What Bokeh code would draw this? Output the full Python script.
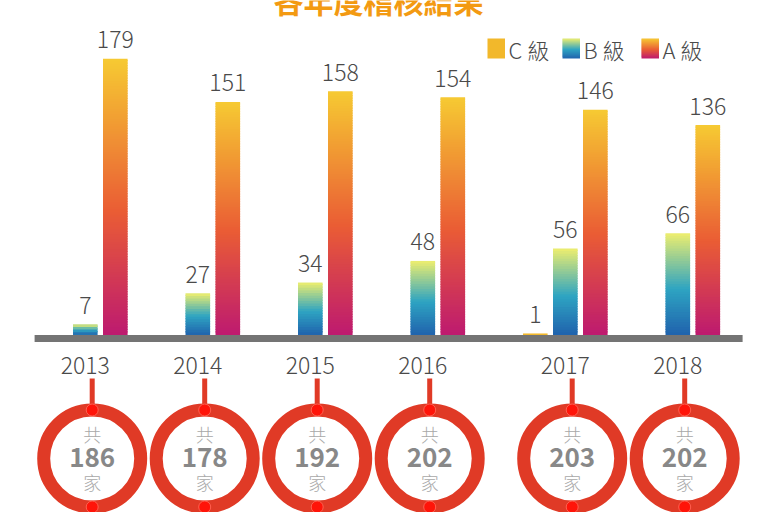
import numpy as np
from bokeh.plotting import figure
from bokeh.models import Range1d
from bokeh.core.properties import value
from bokeh.embed import file_html
from bokeh.resources import INLINE

# ---------------- data ----------------
years = ["2013", "2014", "2015", "2016", "2017", "2018"]
grade_a = [179, 151, 158, 154, 146, 136]
grade_b = [7, 27, 34, 48, 56, 66]
grade_c = [0, 0, 0, 0, 1, 0]
totals = [186, 178, 192, 202, 203, 202]
title_text = "各年度稽核結果"
legend_labels = ["C 級", "B 級", "A 級"]
ring_top_text = "共"
ring_bottom_text = "家"

# ---------------- styles ----------------
FONT = value("Noto Sans CJK TC")
LIGHT = value("'Noto Sans CJK TC Light', 'Noto Sans CJK TC DemiLight', 'Noto Sans CJK TC'")
TXT = "#4a4a4a"
C_COLOR = "#F2B82B"
A_STOPS = [(0.0, "#BD1A70"), (0.45, "#EA5D34"), (1.0, "#F6CA33")]
B_STOPS = [(0.0, "#2062AD"), (0.45, "#2EA4C2"), (1.0, "#EEEE6E")]
RING = "#E03A26"
DOT = "#FF1409"
BASE = "#747474"
TITLE_C = "#F39A12"

W, H = 765, 512
PX_PER_UNIT_Y = 1.5433
BASE_Y = 334.5


def hex2rgb(h):
    h = h.lstrip("#")
    return np.array([int(h[i:i + 2], 16) for i in (0, 2, 4)], dtype=float)


def grad(stops, t):
    for (t0, c0), (t1, c1) in zip(stops[:-1], stops[1:]):
        if t <= t1:
            f = (t - t0) / (t1 - t0)
            c = hex2rgb(c0) * (1 - f) + hex2rgb(c1) * f
            return "#%02x%02x%02x" % tuple(int(round(x)) for x in c)
    return stops[-1][1]


# ---------------- layout (bar slots) ----------------
BAR_W = 0.82
GROUP_GAP = 1.75
bar_x, bar_v, bar_k = [], [], []
b_pos = []
cursor = 0.0
for i in range(len(years)):
    for kind, v in (("C", grade_c[i]), ("B", grade_b[i]), ("A", grade_a[i])):
        if v > 0:
            if kind == "B":
                b_pos.append(cursor)
            bar_x.append(cursor)
            bar_v.append(v)
            bar_k.append(kind)
            cursor += 1
    cursor += GROUP_GAP

p = figure(width=W, height=H, output_backend="svg", toolbar_location=None,
           x_axis_location=None, y_axis_location=None, min_border=0,
           x_range=Range1d(-84.8 / 30, (W - 84.8) / 30),
           y_range=Range1d(-(H - BASE_Y) / PX_PER_UNIT_Y, BASE_Y / PX_PER_UNIT_Y),
           outline_line_color=None, background_fill_color="white")
p.extra_x_ranges = {"px": Range1d(0, W)}
p.extra_y_ranges = {"px": Range1d(H, 0)}
p.xgrid.visible = False
p.ygrid.visible = False

# ---------------- gradient bars ----------------
L, R, Bo, T, C = [], [], [], [], []
for x, v, k in zip(bar_x, bar_v, bar_k):
    if k == "C":
        L.append(x - BAR_W / 2); R.append(x + BAR_W / 2)
        Bo.append(0); T.append(v); C.append(C_COLOR)
        continue
    stops = A_STOPS if k == "A" else B_STOPS
    N = max(4, int(v * PX_PER_UNIT_Y / 2.5))
    for j in range(N):
        L.append(x - BAR_W / 2); R.append(x + BAR_W / 2)
        Bo.append(v * j / N); T.append(min(v, v * (j + 1.5) / N))
        C.append(grad(stops, (j + 0.5) / N))
p.quad(left=L, right=R, bottom=Bo, top=T, fill_color=C, line_color=None)

# value labels
p.text(x=bar_x, y=bar_v, text=[str(v) for v in bar_v], y_offset=-19,
       text_font=LIGHT, text_font_size="23px", text_color=TXT,
       text_align="center", text_baseline="middle")

# baseline (drawn just under the bars)
p.quad(left=[min(bar_x) - 1.69], right=[max(bar_x) + 1.16],
       bottom=[BASE_Y + 7], top=[BASE_Y], y_range_name="px",
       fill_color=BASE, line_color=None)

# year labels
p.text(x=b_pos, y=[364.5] * len(years), y_range_name="px", text=years,
       text_font=LIGHT, text_font_size="23px", text_color=TXT,
       text_align="center", text_baseline="middle")

# ---------------- rings ----------------
ring_x = [b + 0.23 for b in b_pos]
n = len(years)
p.segment(x0=ring_x, y0=[378] * n, x1=ring_x, y1=[404] * n, y_range_name="px",
          line_width=5, line_color=RING, line_cap="butt")
p.scatter(x=ring_x, y=[458] * n, y_range_name="px", size=97, marker="circle",
          fill_color="white", line_color=RING, line_width=13)
p.scatter(x=ring_x * 2, y=[409.5] * n + [506.5] * n, y_range_name="px", size=12,
          marker="circle", fill_color=DOT, line_color="#FF6050", line_width=1)
p.text(x=ring_x, y=[433] * n, y_range_name="px", text=[ring_top_text] * n,
       text_font=LIGHT, text_font_size="18px", text_color="#A8A8A8",
       text_align="center", text_baseline="middle")
p.text(x=ring_x, y=[457] * n, y_range_name="px", text=[str(t) for t in totals],
       text_font=FONT, text_font_size="26px", text_font_style="bold",
       text_color="#888888", text_align="center", text_baseline="middle")
p.text(x=ring_x, y=[481] * n, y_range_name="px", text=[ring_bottom_text] * n,
       text_font=LIGHT, text_font_size="18px", text_color="#A8A8A8",
       text_align="center", text_baseline="middle")

# ---------------- title (partly above the page, as in the reference) ----------------
p.text(x=[378], y=[-1], x_range_name="px", y_range_name="px", text=[title_text],
       text_font=FONT, text_font_size="30px", text_font_style="bold",
       text_color=TITLE_C, text_align="center", text_baseline="middle")

# ---------------- legend ----------------
leg_left = [487, 562, 641]
leg_stops = [None, B_STOPS, A_STOPS]
LL, LR, LB, LT, LC = [], [], [], [], []
for lx, st in zip(leg_left, leg_stops):
    if st is None:
        LL.append(lx); LR.append(lx + 17.5); LB.append(58); LT.append(38); LC.append(C_COLOR)
        continue
    M = 10
    for j in range(M):
        LL.append(lx); LR.append(lx + 17.5)
        LB.append(58 - 20 * j / M); LT.append(max(38, 58 - 20 * (j + 1.5) / M))
        LC.append(grad(st, (j + 0.5) / M))
p.quad(left=LL, right=LR, bottom=LB, top=LT, fill_color=LC, line_color=None,
       x_range_name="px", y_range_name="px")
p.text(x=[lx + 21 for lx in leg_left], y=[48] * 3, x_range_name="px", y_range_name="px",
       text=legend_labels, text_font=LIGHT, text_font_size="22px", text_color=TXT,
       text_align="left", text_baseline="middle")

open("out.html", "w").write(file_html(p, INLINE))
